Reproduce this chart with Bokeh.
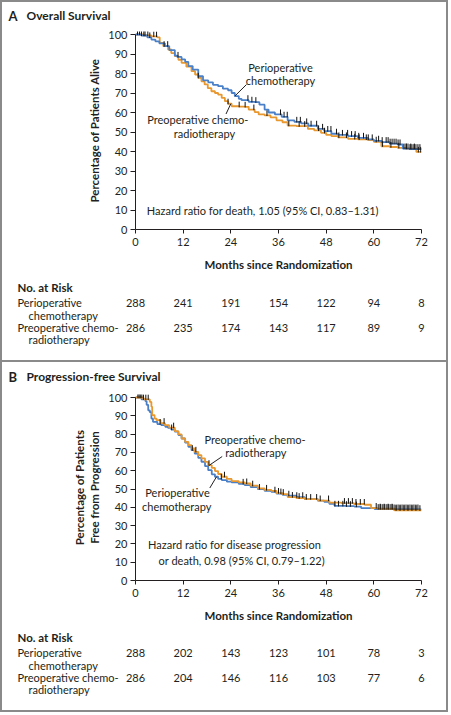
import numpy as np
from math import pi
from bokeh.plotting import figure
from bokeh.layouts import column
from bokeh.models import Label, FixedTicker, Range1d
from bokeh.embed import file_html
from bokeh.resources import INLINE

# ---------------- data ----------------
month_ticks = [0, 12, 24, 36, 48, 60, 72]
pct_ticks = [0, 10, 20, 30, 40, 50, 60, 70, 80, 90, 100]

# Panel A: overall survival
os_peri_t = [0, 1.5, 3, 4, 5, 6, 7.4, 8.5, 9.9, 10.5, 11.6, 12.5, 13.3, 14.4, 15.8, 17, 18.3, 19.5,
             20.8, 22, 23.3, 24.2, 25, 26, 26.7, 28.5, 30, 31.2, 32.5, 33.5, 35.1, 36.8, 38.3, 40,
             41.7, 43.5, 45.9, 47.5, 49.3, 51, 53.5, 56, 58.5, 60, 61.9, 64, 66, 67.3, 69, 72]
os_peri_s = [100, 99.5, 98.5, 97.4, 96.5, 95.5, 94, 92, 89.2, 88.5, 87.2, 86, 83.8, 82, 78.6, 76.5,
             75.5, 74.2, 73.5, 72.2, 71.4, 70, 68.4, 67, 66.3, 65.5, 65.3, 64, 61.5, 60, 59, 57.8,
             56, 55.2, 54.4, 53.2, 51.6, 50.5, 49.1, 48.5, 47.9, 47, 46.2, 45.5, 44.8, 44, 43.6,
             41.5, 41.2, 41]
os_pre_t = [0, 2, 4, 5.5, 6.1, 7, 8.2, 9, 9.9, 10.8, 11.6, 12.8, 14.1, 15, 15.8, 16.6, 17.4, 18.2,
            19.1, 20, 20.8, 21.7, 22.5, 23.3, 24.2, 26, 27.5, 28.5, 30, 31, 32.5, 34, 35.5, 37,
            38.3, 40.5, 43.4, 45, 46.7, 48, 49.3, 51, 53.5, 56, 58.5, 60, 61.9, 64, 66, 68, 70.7, 72]
os_pre_s = [100, 99.5, 99, 98.5, 95.7, 94, 92.3, 90.5, 88.9, 87, 85.5, 83.5, 81.2, 79.5, 77.8, 76,
            74.4, 72.5, 70.9, 70, 69.2, 67.5, 65.8, 64.5, 63.2, 63, 62.9, 61.5, 60.2, 59, 58.5,
            57.5, 56, 55, 53.3, 53, 51.6, 50.8, 49.6, 48.5, 47.9, 47.2, 46.5, 46.2, 45.8, 45,
            42.7, 42.3, 41.9, 41.5, 39.8, 39.8]
os_peri_cens = [0.5, 1.5, 2.4, 3.6, 10.7, 28.3, 29.3, 30.3, 36.5, 37.4, 38.2, 40.6, 41.5, 43.1,
                44.2, 45.6, 47.1, 48.4, 49.2, 50.6, 52.1, 53.4, 54.4, 55.3, 56.2, 57.4, 58.6,
                59.6, 61.2, 62.1, 63.1, 63.6, 64.1, 64.6, 65.1, 65.6, 66.1, 66.6, 67.6, 68.1,
                68.6, 69.1, 69.6, 70.1, 70.6, 71.1, 71.6]
os_pre_cens = [1.0, 2.1, 3.1, 4.6, 5.3, 7.2, 8.1, 15.8, 23.3, 26.1, 27.6, 29.8, 33.1, 38.6, 41.2,
               42.6, 46.1, 47.6, 51.2, 53.1, 55.2, 56.3, 58.1, 60.6, 62.2, 64.3, 66.3, 68.2,
               69.3, 70.2, 71.2, 71.8]
os_risk_peri = [288, 241, 191, 154, 122, 94, 8]
os_risk_pre = [286, 235, 174, 143, 117, 89, 9]

# Panel B: progression-free survival
pfs_peri_t = [0, 1.5, 2.5, 2.8, 3.2, 3.6, 4, 4.4, 5.5, 6.5, 7.5, 8.2, 9, 9.9, 10.8, 11.6, 12.5,
              13.3, 14.1, 14.9, 15.8, 16.6, 17.5, 18.3, 19.2, 20, 20.8, 21.7, 23, 24.2, 26, 27.5,
              29, 30.8, 32.5, 34.2, 35.5, 37, 38.3, 40.5, 42.6, 45.9, 47.5, 48.8, 50.1, 53,
              55.1, 56.8, 60.2, 65, 72]
pfs_peri_s = [100, 99, 98, 96, 93, 92, 88.5, 86.7, 85.5, 84.9, 84, 83.4, 82.5, 81.3, 79.5, 77.6,
              75.3, 73.1, 71.2, 69.4, 67, 64.9, 62.5, 60.3, 58, 56.7, 55.5, 54.9, 54, 53.6, 52.8,
              52.1, 51, 50, 49, 48.5, 47.5, 46.8, 46.3, 45.5, 44.5, 43.7, 43, 41.9, 40.8, 40.6,
              40.4, 39.6, 39, 38.8, 38.8]
pfs_pre_t = [0, 2, 3.6, 4, 4.2, 4.8, 5.3, 6.3, 7.4, 8.5, 9.9, 10.8, 11.6, 12.5, 13.3, 14.1, 14.9,
             15.8, 16.6, 17.5, 18.3, 19.2, 20, 20.8, 21.7, 23, 24.2, 26, 27.5, 29, 30.8, 32.5,
             34.2, 35.5, 37, 38.3, 40.5, 42.6, 45.9, 48.8, 51.8, 55, 57.7, 59.3, 61, 65.2, 72]
pfs_pre_s = [100, 99, 97.6, 95, 90.4, 88.5, 87.6, 86, 84.9, 83.5, 81.6, 79.8, 77.6, 75.8, 74,
             72.2, 70.3, 68.5, 66.7, 64.8, 63, 61.5, 59.8, 58.2, 56.7, 55.5, 54.3, 53.6, 53,
             51.8, 50.3, 49.5, 49, 47.8, 47.2, 45.6, 45, 44.5, 43.7, 42.6, 42.3, 41.8, 41.4,
             39.6, 39.2, 38.4, 38.4]
pfs_peri_cens = [0.6, 1.2, 2.0, 6.2, 9.1, 14.3, 21.6, 27.1, 31.2, 35.1, 36.6, 38.6, 40.6, 42.1,
                 44.1, 45.6, 50.2, 51.1, 52.2, 53.1, 54.1, 55.6, 61.1, 61.6, 62.1, 62.6, 63.1,
                 63.6, 64.1, 64.6, 65.1, 65.6, 66.1, 66.6, 67.1, 67.6, 68.1, 68.6, 69.1, 69.6,
                 70.1, 70.6, 71.1]
pfs_pre_cens = [0.9, 1.6, 2.6, 3.2, 7.2, 9.6, 15.2, 18.5, 22.4, 28.0, 29.5, 33.0, 36.0, 37.2,
                39.5, 41.2, 43.0, 46.5, 48.6, 52.6, 53.6, 54.6, 55.5, 56.6, 57.6, 60.6, 61.6,
                62.6, 63.6, 64.6, 65.6, 66.6, 67.6, 68.6, 69.6, 70.6, 71.6]
pfs_risk_peri = [288, 202, 143, 123, 101, 78, 3]
pfs_risk_pre = [286, 204, 146, 116, 103, 77, 6]

# ---------------- styles / layout (page pixel plan) ----------------
BLUE = "#4a80c8"
ORANGE = "#e8982e"
INK = "#231f20"
FRAME = "#8a8a8a"
FONT = "Lato"
IN_L, IN_R = 3, 447          # inner panel left/right (page px)
IW = IN_R - IN_L
X0, X1 = 136, 422            # plot frame left/right (page px)


def mx(px):
    """page x -> months"""
    return (px - X0) * 72.0 / (X1 - X0)


def step_at(ts, ss, t):
    i = np.searchsorted(np.asarray(ts), t, side="right") - 1
    return np.asarray(ss)[i]


def lab(p, x, y, text, size="11px", bold=False, align="center", angle=0):
    p.add_layout(Label(x=x, y=y, text=text, text_font=FONT, text_font_size=size,
                       text_font_style="bold" if bold else "normal", text_color=INK,
                       text_align=align, text_baseline="middle", angle=angle))


def text_fig(top, bottom):
    """full-frame figure whose data coords equal months (x) and page px (y)."""
    p = figure(width=IW, height=bottom - top, output_backend="svg", toolbar_location=None,
               x_range=Range1d(mx(IN_L), mx(IN_R)), y_range=Range1d(bottom, top),
               x_axis_location=None, y_axis_location=None,
               min_border=0, min_border_left=0, min_border_right=0,
               min_border_top=0, min_border_bottom=0,
               outline_line_color=None, border_fill_color="white")
    p.grid.visible = False
    return p


def main_fig(top, bottom, y100, y0, frame_top, ylabel):
    ppu = (y0 - y100) / 100.0
    p = figure(width=IW, height=bottom - top, output_backend="svg", toolbar_location=None,
               x_range=Range1d(0, 72), y_range=Range1d(0, (y0 - frame_top) / ppu),
               min_border_left=X0 - IN_L, min_border_right=IN_R - X1,
               min_border_top=frame_top - top, min_border_bottom=bottom - y0,
               outline_line_color=None, border_fill_color="white")
    p.grid.visible = False
    for ax in (p.xaxis[0], p.yaxis[0]):
        ax.axis_line_color = INK
        ax.major_tick_line_color = INK
        ax.minor_tick_line_color = None
        ax.major_tick_in = 0
        ax.major_label_text_font = FONT
        ax.major_label_text_font_size = "11px"
        ax.major_label_text_color = INK
        ax.axis_label_text_font = FONT
        ax.axis_label_text_font_size = "11.5px"
        ax.axis_label_text_font_style = "bold"
        ax.axis_label_text_color = INK
    p.xaxis.ticker = FixedTicker(ticks=month_ticks)
    p.yaxis.ticker = FixedTicker(ticks=pct_ticks)
    p.yaxis.bounds = (0, 100)
    p.xaxis.major_tick_out = 4
    p.yaxis.major_tick_out = 5
    p.xaxis.major_label_standoff = 4
    p.yaxis.major_label_standoff = 3
    p.xaxis.axis_label = "Months since Randomization"
    p.xaxis.axis_label_standoff = 9
    p.yaxis.axis_label = ylabel
    p.yaxis.axis_label_standoff = 4

    def py(v):
        return (y0 - v) / ppu
    return p, py, ppu


def curves(p, ppu, series):
    for ts, ss, col, _ in series:
        p.step(x=ts, y=ss, mode="after", line_color=col, line_width=1.8)
    for ts, ss, _, cens in series:
        ys = step_at(ts, ss, cens)
        p.segment(x0=cens, y0=ys - 0.6 / ppu, x1=cens, y1=ys + 5.0 / ppu,
                  line_color="#111111", line_width=1)


def risk_table(p, y_title, y_rows, risk_a, risk_b):
    lab(p, mx(18), y_title, "No. at Risk", size="11.5px", bold=True, align="left")
    lab(p, mx(18), y_rows[0], "Perioperative", align="left")
    lab(p, mx(29), y_rows[1], "chemotherapy", align="left")
    lab(p, mx(18), y_rows[2], "Preoperative chemo-", align="left")
    lab(p, mx(29), y_rows[3], "radiotherapy", align="left")
    for m, a, b in zip(month_ticks, risk_a, risk_b):
        lab(p, m, y_rows[0], str(a))
        lab(p, m, y_rows[2], str(b))


# ---------------- panel A ----------------
hA = text_fig(3, 24)
lab(hA, mx(9), 16, "A", size="13px", bold=True, align="left")
lab(hA, mx(27), 16, "Overall Survival", size="12px", bold=True, align="left")

pA, yA, ppuA = main_fig(24, 275, 35, 230, 32, "Percentage of Patients Alive")
curves(pA, ppuA, [(os_pre_t, os_pre_s, ORANGE, os_pre_cens),
                  (os_peri_t, os_peri_s, BLUE, os_peri_cens)])
pA.segment(x0=[mx(247)], y0=[yA(85)], x1=[25.0], y1=[float(step_at(os_peri_t, os_peri_s, 25.0))],
           line_color=INK, line_width=1)
pA.segment(x0=[24.0], y0=[float(step_at(os_pre_t, os_pre_s, 24.0))], x1=[mx(226.5)], y1=[yA(114.5)],
           line_color=INK, line_width=1)
lab(pA, mx(281), yA(67.5), "Perioperative")
lab(pA, mx(281), yA(81), "chemotherapy")
lab(pA, mx(198.3), yA(120), "Preoperative chemo-")
lab(pA, mx(205), yA(134.3), "radiotherapy")
lab(pA, mx(263.3), yA(210.7), "Hazard ratio for death, 1.05 (95% CI, 0.83\u20131.31)")

tA = text_fig(275, 361)
risk_table(tA, 288, [303.3, 315.7, 328.3, 340.3], os_risk_peri, os_risk_pre)

# ---------------- panel B ----------------
hB = text_fig(363, 385)
lab(hB, mx(9), 377, "B", size="13px", bold=True, align="left")
lab(hB, mx(27), 377, "Progression-free Survival", size="12px", bold=True, align="left")

pB, yB, ppuB = main_fig(385, 625, 398, 581, 395, "Percentage of Patients\nFree from Progression")
curves(pB, ppuB, [(pfs_peri_t, pfs_peri_s, BLUE, pfs_peri_cens),
                  (pfs_pre_t, pfs_pre_s, ORANGE, pfs_pre_cens)])
pB.segment(x0=[mx(222.7)], y0=[yB(457)], x1=[18.6], y1=[float(step_at(pfs_pre_t, pfs_pre_s, 18.6))],
           line_color=INK, line_width=1)
pB.segment(x0=[20.4], y0=[float(step_at(pfs_peri_t, pfs_peri_s, 20.4))], x1=[mx(210.3)], y1=[yB(488.5)],
           line_color=INK, line_width=1)
lab(pB, mx(255.5), yB(440), "Preoperative chemo-")
lab(pB, mx(256.3), yB(453.3), "radiotherapy")
lab(pB, mx(178), yB(493.3), "Perioperative")
lab(pB, mx(177.2), yB(506.7), "chemotherapy")
lab(pB, mx(235), yB(545), "Hazard ratio for disease progression")
lab(pB, mx(242.2), yB(561), "or death, 0.98 (95% CI, 0.79\u20131.22)")

tB = text_fig(625, 711)
risk_table(tB, 637.7, [653.3, 665.7, 678.3, 690.3], pfs_risk_peri, pfs_risk_pre)

colA = column(hA, column(pA), tA, spacing=0, styles={"border": "2px solid " + FRAME})
colB = column(hB, column(pB), tB, spacing=0,
              styles={"border": "2px solid " + FRAME, "border-top": "none"})
layout = column(colA, colB, spacing=0)
open("out.html", "w").write(file_html(layout, INLINE))
